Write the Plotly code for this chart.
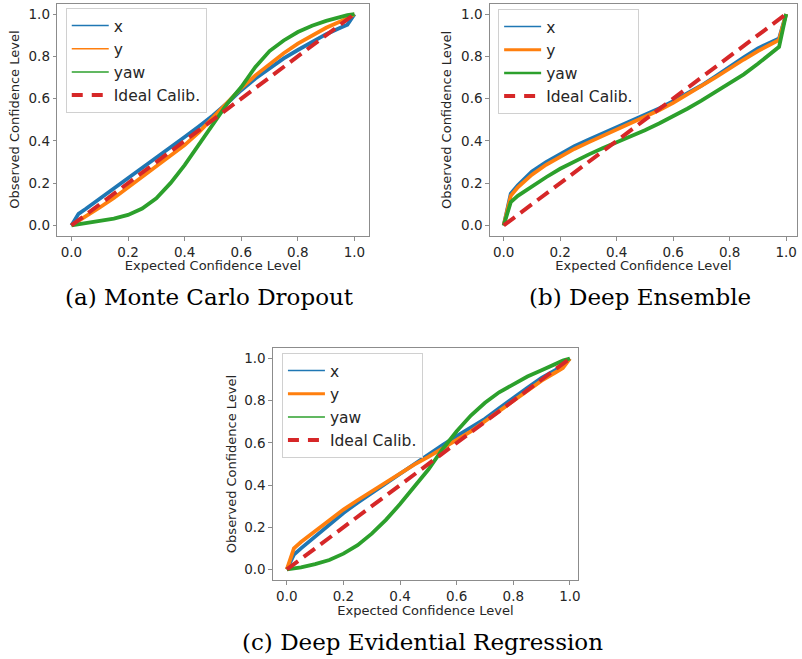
import plotly.graph_objects as go

W, H = 802, 659

# Expected confidence levels at which the calibration curves were evaluated
conf_levels = [0.0, 0.025, 0.05, 0.1, 0.15, 0.2, 0.25, 0.3, 0.35, 0.4, 0.45, 0.5,
               0.55, 0.6, 0.65, 0.7, 0.75, 0.8, 0.85, 0.9, 0.95, 0.975, 1.0]

# (a) Monte Carlo Dropout
mcd_x = [0, 0.055, 0.078, 0.126, 0.175, 0.225, 0.272, 0.32, 0.37, 0.418, 0.468, 0.52,
         0.578, 0.64, 0.695, 0.745, 0.79, 0.83, 0.87, 0.905, 0.935, 0.95, 1.0]
mcd_y = [0, 0.02, 0.04, 0.085, 0.13, 0.18, 0.225, 0.275, 0.325, 0.38, 0.44, 0.51,
         0.58, 0.65, 0.71, 0.765, 0.815, 0.86, 0.9, 0.935, 0.965, 0.98, 1.0]
mcd_yaw = [0, 0.005, 0.01, 0.02, 0.032, 0.05, 0.08, 0.128, 0.2, 0.285, 0.38, 0.48,
           0.575, 0.655, 0.75, 0.825, 0.875, 0.915, 0.945, 0.968, 0.987, 0.995, 1.0]

# (b) Deep Ensemble
de_x = [0, 0.15, 0.19, 0.255, 0.30, 0.34, 0.375, 0.405, 0.435, 0.462, 0.492, 0.522,
        0.553, 0.588, 0.623, 0.662, 0.705, 0.752, 0.795, 0.838, 0.87, 0.885, 1.0]
de_y = [0, 0.14, 0.18, 0.24, 0.287, 0.327, 0.362, 0.393, 0.423, 0.453, 0.483, 0.513,
        0.545, 0.58, 0.618, 0.66, 0.70, 0.745, 0.785, 0.825, 0.858, 0.878, 1.0]
de_yaw = [0, 0.11, 0.14, 0.185, 0.228, 0.268, 0.303, 0.335, 0.365, 0.392, 0.42, 0.45,
          0.482, 0.516, 0.552, 0.59, 0.63, 0.67, 0.715, 0.765, 0.815, 0.845, 1.0]

# (c) Deep Evidential Regression
der_x = [0, 0.07, 0.1, 0.158, 0.215, 0.268, 0.317, 0.363, 0.407, 0.45, 0.497, 0.545,
         0.59, 0.632, 0.673, 0.714, 0.764, 0.814, 0.861, 0.908, 0.945, 0.965, 1.0]
der_y = [0, 0.1, 0.13, 0.18, 0.235, 0.284, 0.328, 0.37, 0.415, 0.458, 0.497, 0.534,
         0.575, 0.613, 0.655, 0.703, 0.75, 0.8, 0.847, 0.895, 0.935, 0.955, 1.0]
der_yaw = [0, 0.004, 0.01, 0.025, 0.045, 0.075, 0.115, 0.17, 0.235, 0.31, 0.39, 0.474,
           0.57, 0.655, 0.73, 0.79, 0.84, 0.88, 0.915, 0.945, 0.975, 0.99, 1.0]

ideal = [0.0, 1.0]

series_names = ["x", "y", "yaw"]
series_colors = ["#1f77b4", "#ff7f0e", "#2ca02c"]
ideal_name = "Ideal Calib."
ideal_color = "#d62728"

captions = ["(a) Monte Carlo Dropout", "(b) Deep Ensemble", "(c) Deep Evidential Regression"]
x_title = "Expected Confidence Level"
y_title = "Observed Confidence Level"
tick_vals = [0.0, 0.2, 0.4, 0.6, 0.8, 1.0]

panels = [
    dict(data=[mcd_x, mcd_y, mcd_yaw], caption=captions[0],
         box=(57.5, 370, 3.5, 236), xr=(-0.05, 1.05), yr=(-0.05, 1.05),
         legend_xy=(66, 8), legend_w=[1.5, 1.5, 1.5],
         ytitle_x=15, xtitle_band=(259.5, 272.5), xtitle_y=267, cap_y=297),
    dict(data=[de_x, de_y, de_yaw], caption=captions[1],
         box=(491.7, 800, 3.5, 236), xr=(-0.049, 1.0385), yr=(-0.05, 1.05),
         legend_xy=(500, 9), legend_w=[1.5, 3, 2.5],
         ytitle_x=448, xtitle_band=(259.5, 272.5), xtitle_y=267, cap_y=297),
    dict(data=[der_x, der_y, der_yaw], caption=captions[2],
         box=(274, 580, 348, 580), xr=(-0.049, 1.028), yr=(-0.05, 1.05),
         legend_xy=(283, 353), legend_w=[1.5, 3, 1.5],
         ytitle_x=232, xtitle_band=(604.5, 617.5), xtitle_y=612, cap_y=642),
]


def fx(px):
    return px / W


def fy(py):
    return 1 - py / H


fig = go.Figure()
layout = dict(width=W, height=H, margin=dict(l=0, r=0, t=0, b=0, pad=0),
              paper_bgcolor="white", plot_bgcolor="rgba(0,0,0,0)", showlegend=True,
              font=dict(family="DejaVu Sans", color="#262626"))
annotations = []

axis_style = dict(showline=True, mirror=True, linecolor="#8c8c8c", linewidth=1.2,
                  ticks="outside", ticklen=3.5, tickwidth=1, tickcolor="#8c8c8c",
                  showgrid=False, zeroline=False, tickvals=tick_vals, tickformat=".1f",
                  tickfont=dict(family="DejaVu Sans", size=13.5, color="#262626"))
hidden_axis = dict(visible=False, range=[0, 1], fixedrange=True, showgrid=False,
                   zeroline=False)

for i, p in enumerate(panels):
    n = "" if i == 0 else str(i + 1)
    xa, ya, lg = "x" + n, "y" + n, "legend" + n
    x0, x1, y0, y1 = p["box"]
    layout["xaxis" + n] = dict(axis_style, domain=[fx(x0), fx(x1)], range=list(p["xr"]),
                               anchor=ya)
    layout["yaxis" + n] = dict(axis_style, domain=[fy(y1), fy(y0)], range=list(p["yr"]),
                               anchor=xa)

    # calibration curves
    for vals, name, color in zip(p["data"], series_names, series_colors):
        fig.add_trace(go.Scatter(x=conf_levels, y=vals, mode="lines", name=name,
                                 line=dict(color=color, width=3.8),
                                 xaxis=xa, yaxis=ya, showlegend=False, hoverinfo="skip"))
    fig.add_trace(go.Scatter(x=ideal, y=ideal, mode="lines", name=ideal_name,
                             line=dict(color=ideal_color, width=4, dash="14px,7px"),
                             xaxis=xa, yaxis=ya, showlegend=False, hoverinfo="skip"))

    # legend entries
    for name, color, lw in zip(series_names, series_colors, p["legend_w"]):
        fig.add_trace(go.Scatter(x=[None], y=[None], mode="lines", name=name,
                                 line=dict(color=color, width=lw),
                                 xaxis=xa, yaxis=ya, legend=lg, showlegend=True))
    fig.add_trace(go.Scatter(x=[None], y=[None], mode="lines", name=ideal_name,
                             line=dict(color=ideal_color, width=4, dash="11px,9px"),
                             xaxis=xa, yaxis=ya, legend=lg, showlegend=True))

    lx, ly = p["legend_xy"]
    layout[lg] = dict(x=fx(lx), y=fy(ly), xanchor="left", yanchor="top",
                      bgcolor="rgba(255,255,255,0.8)", bordercolor="#d0d0d0",
                      borderwidth=1, font=dict(family="DejaVu Sans", size=15.5,
                                               color="#262626"),
                      tracegroupgap=0, itemwidth=37)

    # x title sits in a thin strip that ends just below its baseline
    k = str(i + 4)
    b0, b1 = p["xtitle_band"]
    layout["xaxis" + k] = dict(hidden_axis, domain=[fx(x0), fx(x1)], anchor="y" + k)
    layout["yaxis" + k] = dict(hidden_axis, domain=[fy(b1), fy(b0)], anchor="x" + k)
    fig.add_trace(go.Scatter(x=[0.5], y=[(b1 - p["xtitle_y"]) / (b1 - b0)], mode="text",
                             text=[x_title], textposition="middle center",
                             textfont=dict(family="DejaVu Sans", size=13, color="#262626"),
                             cliponaxis=True, xaxis="x" + k, yaxis="y" + k,
                             showlegend=False, hoverinfo="skip"))

    cx = (x0 + x1) / 2
    annotations.append(dict(text=y_title, x=fx(p["ytitle_x"]), y=fy((y0 + y1) / 2),
                            xref="paper", yref="paper", showarrow=False, textangle=-90,
                            font=dict(family="DejaVu Sans", size=13, color="#262626"),
                            xanchor="center", yanchor="middle"))
    # sub-figure caption
    annotations.append(dict(text=p["caption"], x=fx(cx - 3), y=fy(p["cap_y"]),
                            xref="paper", yref="paper", showarrow=False,
                            font=dict(family="DejaVu Serif", size=23, color="black"),
                            xanchor="center", yanchor="middle"))

layout["annotations"] = annotations
fig.update_layout(**layout)
fig.write_html("out.html")
